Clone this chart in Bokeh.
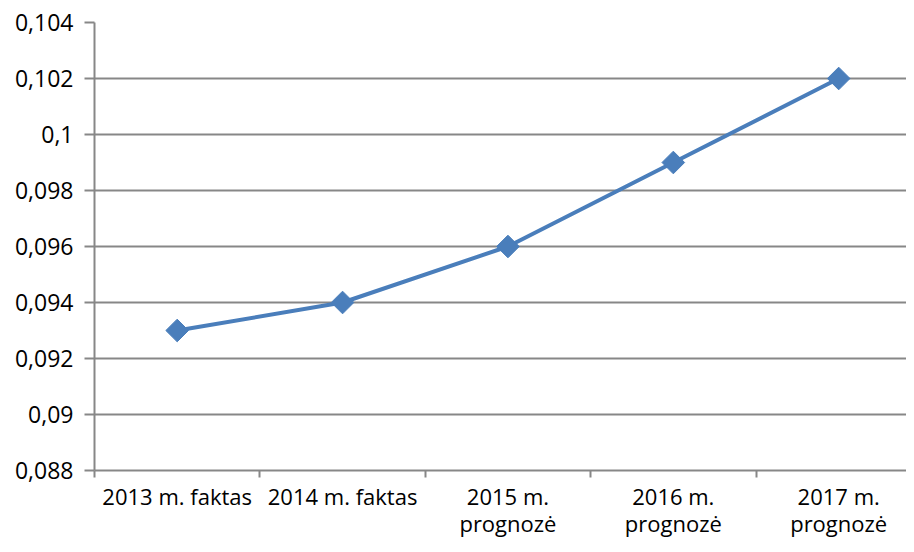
import math
from bokeh.plotting import figure
from bokeh.models import Range1d, FixedTicker, CustomJSTickFormatter, ColumnDataSource
from bokeh.embed import file_html
from bokeh.resources import INLINE

categories = ["2013 m. faktas", "2014 m. faktas", "2015 m.\nprognozė", "2016 m.\nprognozė", "2017 m.\nprognozė"]
values = [0.093, 0.094, 0.096, 0.099, 0.102]
y_ticks = [0.088, 0.090, 0.092, 0.094, 0.096, 0.098, 0.100, 0.102, 0.104]

xpos = [i + 0.5 for i in range(len(categories))]
src = ColumnDataSource(dict(x=xpos, y=values))

FONT = "Open Sans"
GRID = "#878787"
BLUE = "#4A7EBB"

p = figure(width=906, height=544, output_backend="svg", toolbar_location=None,
           x_range=Range1d(0, 4.91), y_range=Range1d(0.088, 0.104),
           min_border_left=94, min_border_top=22, min_border_bottom=74, min_border_right=0)
p.outline_line_color = None
p.background_fill_color = "white"
p.border_fill_color = "white"

p.line("x", "y", source=src, line_color=BLUE, line_width=4)
p.scatter("x", "y", source=src, marker="square", angle=math.pi / 4, size=16,
          fill_color=BLUE, line_color=BLUE)

# x axis
p.xaxis.ticker = FixedTicker(ticks=xpos, minor_ticks=list(range(len(categories) + 1)))
p.xaxis.major_label_overrides = {x: c for x, c in zip(xpos, categories)}
p.xaxis.major_tick_out = 0
p.xaxis.major_tick_in = 0
p.xaxis.minor_tick_out = 7
p.xaxis.minor_tick_in = 0
p.xaxis.minor_tick_line_color = GRID
p.xaxis.minor_tick_line_width = 2
p.xaxis.axis_line_color = GRID
p.xaxis.axis_line_width = 2
p.xaxis.major_label_standoff = 3
p.xaxis.major_label_text_font = FONT
p.xaxis.major_label_text_font_size = "22px"
p.xaxis.major_label_text_line_height = 0.92
p.xaxis.major_label_text_color = "black"
p.xgrid.visible = False

# y axis
p.yaxis.ticker = FixedTicker(ticks=y_ticks)
p.yaxis.formatter = CustomJSTickFormatter(code="""
let s = tick.toFixed(3).replace(/0+$/, '');
return s.replace('.', ',');
""")
p.yaxis.major_tick_out = 10
p.yaxis.major_tick_in = 0
p.yaxis.minor_tick_line_color = None
p.yaxis.major_tick_line_color = GRID
p.yaxis.major_tick_line_width = 2
p.yaxis.axis_line_color = GRID
p.yaxis.axis_line_width = 2
p.yaxis.major_label_standoff = 11
p.yaxis.major_label_text_font = FONT
p.yaxis.major_label_text_font_size = "23px"
p.yaxis.major_label_text_color = "black"
p.ygrid.grid_line_color = GRID
p.ygrid.grid_line_width = 2

open("out.html", "w").write(file_html(p, INLINE))
